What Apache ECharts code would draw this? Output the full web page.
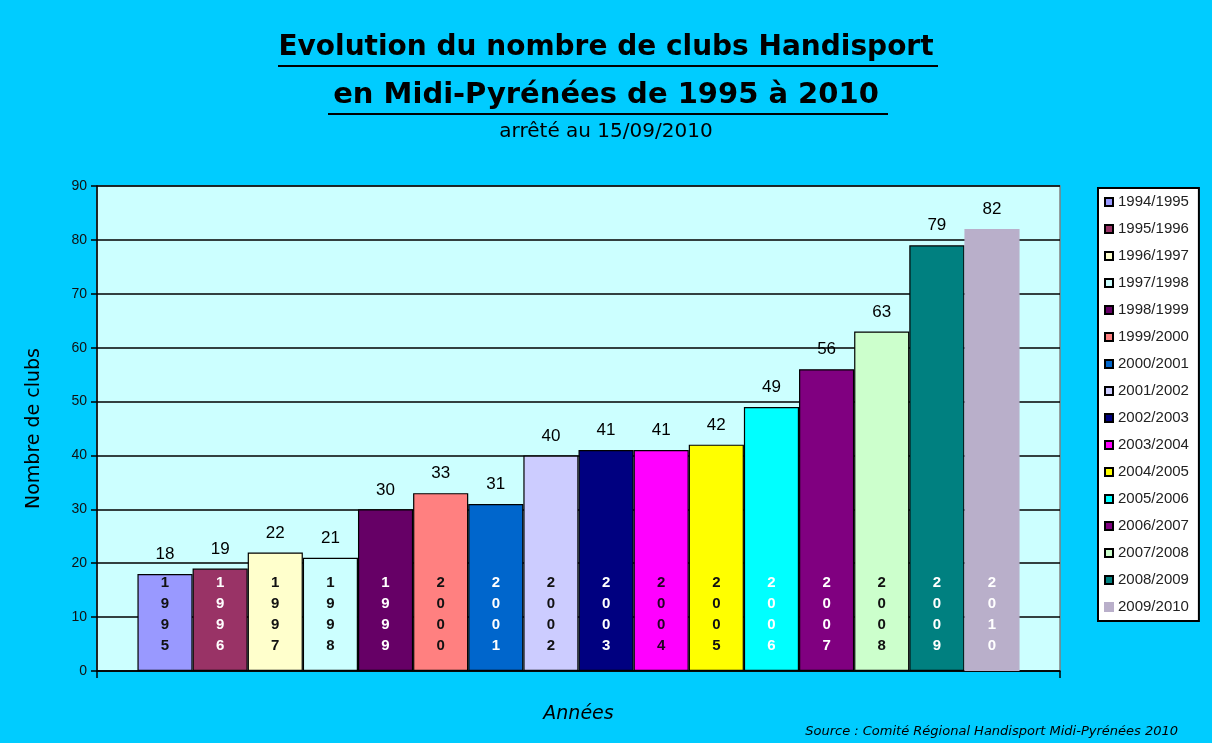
<!DOCTYPE html>
<html>
<head>
<meta charset="utf-8">
<script src="https://cdn.jsdelivr.net/npm/echarts@6/dist/echarts.min.js"></script>
<style>
  html, body { margin: 0; padding: 0; background: #00CCFF; }
  #chart { width: 1212px; height: 743px; }
</style>
</head>
<body>
<div id="chart"></div>
<script>
// data
const seasons = ['1994/1995', '1995/1996', '1996/1997', '1997/1998', '1998/1999', '1999/2000',
  '2000/2001', '2001/2002', '2002/2003', '2003/2004', '2004/2005', '2005/2006',
  '2006/2007', '2007/2008', '2008/2009', '2009/2010']
const years = ['1995', '1996', '1997', '1998', '1999', '2000', '2001', '2002',
  '2003', '2004', '2005', '2006', '2007', '2008', '2009', '2010']
const clubs = [18, 19, 22, 21, 30, 33, 31, 40, 41, 41, 42, 49, 56, 63, 79, 82]
const yTicks = { min: 0, max: 90, interval: 10 }

// styles
const barColors = ['#9999FF', '#993366', '#FFFFCC', '#CCFFFF', '#660066', '#FF8080',
  '#0066CC', '#CCCCFF', '#000080', '#FF00FF', '#FFFF00', '#00FFFF',
  '#800080', '#CCFFCC', '#008080', '#B9AFCA']
const yearColors = ['#111', '#fff', '#111', '#111', '#fff', '#111', '#fff', '#111',
  '#fff', '#220022', '#111', '#fff', '#fff', '#111', '#fff', '#fff']

const chart = echarts.init(document.getElementById('chart'))

const series = []
seasons.forEach((name, i) => {
  // the bar itself, with the year written downwards inside
  series.push({
    type: 'bar',
    name: name,
    stack: 's' + i,
    data: [clubs[i]],
    itemStyle: {
      color: barColors[i],
      borderColor: i === seasons.length - 1 ? barColors[i] : '#000',
      borderWidth: 1.2,
    },
    label: {
      show: true,
      position: 'insideBottom',
      distance: 15,
      formatter: () => years[i].split('').join('\n'),
      color: yearColors[i],
      fontFamily: 'Liberation Sans',
      fontWeight: 'bold',
      fontSize: 15,
      lineHeight: 21,
    },
  })
  // empty bar on top, only to hold the value label
  series.push({
    type: 'bar',
    name: '_v' + i,
    stack: 's' + i,
    data: [0],
    itemStyle: { color: 'transparent', borderWidth: 0 },
    label: {
      show: true,
      position: 'top',
      distance: 11,
      formatter: () => String(clubs[i]),
      color: '#000',
      fontFamily: 'Liberation Sans',
      fontSize: 17,
    },
  })
})
series[0].barGap = '0%'
series[0].barCategoryGap = '8.4%'

chart.setOption({
  backgroundColor: '#00CCFF',
  animation: false,
  grid: {
    left: 97,
    right: 152,
    top: 186,
    bottom: 72,
    show: true,
    backgroundColor: '#CCFFFF',
    borderColor: '#808080',
    borderWidth: 1.5,
  },
  legend: {
    data: seasons,
    orient: 'vertical',
    left: 1098,
    top: 188,
    padding: [6, 10, 6, 6],
    itemGap: 11,
    itemWidth: 8,
    itemHeight: 8,
    icon: 'rect',
    backgroundColor: '#fff',
    borderColor: '#000',
    borderWidth: 2,
    borderRadius: 0,
    textStyle: {
      fontFamily: 'Liberation Sans',
      fontSize: 15,
      lineHeight: 16,
      color: '#222',
    },
  },
  xAxis: {
    type: 'category',
    data: [''],
    name: 'Années',
    nameLocation: 'middle',
    nameGap: 34,
    nameTextStyle: {
      fontFamily: 'DejaVu Sans',
      fontStyle: 'italic',
      fontSize: 19,
      color: '#000',
    },
    axisLine: { lineStyle: { color: '#000', width: 1.5 } },
    axisTick: { show: true, length: 7, lineStyle: { color: '#000', width: 1.5 } },
    axisLabel: { show: false },
  },
  yAxis: {
    type: 'value',
    min: yTicks.min,
    max: yTicks.max,
    interval: yTicks.interval,
    name: 'Nombre de clubs',
    nameLocation: 'middle',
    nameGap: 53,
    nameTextStyle: {
      fontFamily: 'DejaVu Sans',
      fontSize: 19,
      color: '#000',
    },
    axisLine: { show: true, lineStyle: { color: '#000', width: 1.5 } },
    axisTick: { show: true, length: 6, lineStyle: { color: '#000', width: 1.5 } },
    axisLabel: {
      fontFamily: 'Liberation Sans',
      fontSize: 14,
      color: '#111',
      margin: 10,
    },
    splitLine: { lineStyle: { color: '#000', width: 1.5 } },
  },
  graphic: [
    {
      type: 'text', left: 'center', top: 34,
      style: { text: 'Evolution du nombre de clubs Handisport', font: 'bold 28px "DejaVu Sans"', fill: '#000' },
    },
    { type: 'line', shape: { x1: 278, y1: 66, x2: 938, y2: 66 }, style: { stroke: '#000', lineWidth: 2 } },
    {
      type: 'text', left: 'center', top: 81,
      style: { text: 'en Midi-Pyrénées de 1995 à 2010', font: 'bold 29px "DejaVu Sans"', fill: '#000' },
    },
    { type: 'line', shape: { x1: 328, y1: 114, x2: 888, y2: 114 }, style: { stroke: '#000', lineWidth: 2 } },
    {
      type: 'text', left: 'center', top: 122,
      style: { text: 'arrêté au 15/09/2010', font: '20px "DejaVu Sans"', fill: '#000' },
    },
    {
      type: 'text', right: 34, top: 725,
      style: { text: 'Source : Comité Régional Handisport Midi-Pyrénées 2010', font: 'italic 13px "DejaVu Sans"', fill: '#000' },
    },
  ],
  series: series,
})
</script>
</body>
</html>
